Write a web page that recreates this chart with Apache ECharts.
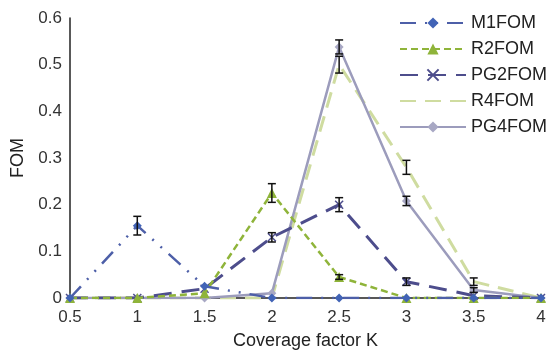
<!DOCTYPE html>
<html>
<head>
<meta charset="utf-8">
<script src="https://cdn.jsdelivr.net/npm/echarts@6/dist/echarts.min.js"></script>
<style>
  html, body { margin: 0; padding: 0; background: #fff; }
  #chart { width: 554px; height: 358px; }
</style>
</head>
<body>
<div id="chart"></div>
<script>
// Coverage factor K on the x axis
const kValues = [0.5, 1, 1.5, 2, 2.5, 3, 3.5, 4];

// FOM per series
const m1Fom  = [0, 0.155, 0.025, 0, 0, 0, 0, 0];
const r2Fom  = [0, 0, 0.01, 0.225, 0.045, 0, 0, 0];
const pg2Fom = [0, 0, 0.02, 0.13, 0.2, 0.035, 0.005, 0];
const r4Fom  = [0, 0, 0, 0, 0.5, 0.28, 0.035, 0];
const pg4Fom = [0, 0, 0, 0.01, 0.538, 0.208, 0.017, 0];

// Error half-widths per series
const m1Err  = [0, 0.02, 0, 0, 0, 0, 0, 0];
const r2Err  = [0, 0, 0, 0.02, 0.005, 0, 0, 0];
const pg2Err = [0, 0, 0, 0.01, 0.015, 0.008, 0, 0];
const r4Err  = [0, 0, 0, 0, 0.018, 0.015, 0.008, 0];
const pg4Err = [0, 0, 0, 0, 0.015, 0.01, 0.005, 0];

const seriesNames = ['M1FOM', 'R2FOM', 'PG2FOM', 'R4FOM', 'PG4FOM'];
const yTicks = [0, 0.1, 0.2, 0.3, 0.4, 0.5, 0.6];

const FONT = 'Liberation Sans, Arial, sans-serif';

const pairs = vals => kValues.map((k, i) => [k, vals[i]]);
const errTriples = (vals, errs) => kValues
  .map((k, i) => [k, vals[i] - errs[i], vals[i] + errs[i]])
  .filter((d, i) => errs[i] > 0);

function errorBars(data, z) {
  return {
    type: 'custom',
    data: data,
    z: z,
    silent: true,
    renderItem: function (params, api) {
      const x = api.value(0);
      const lo = api.coord([x, api.value(1)]);
      const hi = api.coord([x, api.value(2)]);
      const w = 4;
      const style = { stroke: '#111', lineWidth: 1.5 };
      return {
        type: 'group',
        children: [
          { type: 'line', shape: { x1: lo[0], y1: lo[1], x2: hi[0], y2: hi[1] }, style: style },
          { type: 'line', shape: { x1: lo[0] - w, y1: lo[1], x2: lo[0] + w, y2: lo[1] }, style: style },
          { type: 'line', shape: { x1: hi[0] - w, y1: hi[1], x2: hi[0] + w, y2: hi[1] }, style: style }
        ]
      };
    }
  };
}

const crossPath = 'path://M0,0L10,10M10,0L0,10';

const chart = echarts.init(document.getElementById('chart'), null, { renderer: 'canvas' });

chart.setOption({
  animation: false,
  textStyle: { fontFamily: FONT },
  grid: { left: 70, right: 13, top: 18, bottom: 60 },
  legend: {
    data: [
      { name: 'M1FOM' },
      { name: 'R2FOM' },
      { name: 'PG2FOM' },
      { name: 'R4FOM', itemStyle: { opacity: 0 } },
      { name: 'PG4FOM' }
    ],
    orient: 'vertical',
    left: 394,
    top: 9,
    itemWidth: 66,
    itemHeight: 14,
    itemGap: 8,
    textStyle: { fontSize: 18, lineHeight: 18, color: '#222', fontFamily: FONT },
    backgroundColor: 'rgba(255,255,255,0.85)'
  },
  xAxis: {
    type: 'value',
    min: 0.5,
    max: 4,
    interval: 0.5,
    name: 'Coverage factor K',
    nameLocation: 'middle',
    nameGap: 34,
    nameTextStyle: { fontSize: 18, color: '#222' },
    axisLine: { show: true, onZero: false, lineStyle: { color: '#222', width: 1.5 } },
    axisTick: { show: false },
    splitLine: { show: false },
    axisLabel: { fontSize: 17, color: '#333', margin: 11 }
  },
  yAxis: {
    type: 'value',
    min: 0,
    max: 0.6,
    interval: 0.1,
    name: 'FOM',
    nameLocation: 'middle',
    nameGap: 43,
    nameTextStyle: { fontSize: 18, color: '#222' },
    axisLine: { show: true, lineStyle: { color: '#222', width: 1.5 } },
    axisTick: { show: false },
    splitLine: { show: false },
    axisLabel: {
      fontSize: 17, color: '#333', margin: 8,
      formatter: v => {
        const t = yTicks.find(tv => Math.abs(tv - v) < 1e-9);
        return t === undefined ? '' : String(t);
      }
    }
  },
  series: [
    {
      name: 'PG4FOM', type: 'line', data: pairs(pg4Fom), z: 2,
      color: '#9c9cbc',
      symbol: 'diamond', symbolSize: 9,
      lineStyle: { width: 2.5, color: '#9c9cbc' },
      itemStyle: { color: '#a8a8c4' }
    },
    {
      name: 'R4FOM', type: 'line', data: pairs(r4Fom), z: 1,
      color: '#cfdca0',
      symbol: 'none',
      lineStyle: { width: 3, color: '#cfdca0', type: [16, 9] }
    },
    {
      name: 'PG2FOM', type: 'line', data: pairs(pg2Fom), z: 3,
      color: '#4d4d8c',
      symbol: crossPath, symbolSize: 8,
      lineStyle: { width: 3, color: '#4d4d8c', type: [18, 10] },
      itemStyle: { color: '#4d4d8c', borderColor: '#4d4d8c', borderWidth: 1.5 }
    },
    {
      name: 'R2FOM', type: 'line', data: pairs(r2Fom), z: 4,
      color: '#8fb43a',
      symbol: 'triangle', symbolSize: 10,
      lineStyle: { width: 2.5, color: '#8fb43a', type: [7, 4] },
      itemStyle: { color: '#8fb43a' }
    },
    {
      name: 'M1FOM', type: 'line', data: pairs(m1Fom), z: 5,
      color: '#4163b6',
      symbol: 'diamond', symbolSize: 9,
      lineStyle: { width: 2.5, color: '#4d5fa8', type: [16, 9, 2, 9, 2, 9] },
      itemStyle: { color: '#4163b6' }
    },
    errorBars(errTriples(m1Fom, m1Err), 10),
    errorBars(errTriples(r2Fom, r2Err), 10),
    errorBars(errTriples(pg2Fom, pg2Err), 10),
    errorBars(errTriples(r4Fom, r4Err), 10),
    errorBars(errTriples(pg4Fom, pg4Err), 10)
  ]
});
</script>
</body>
</html>
